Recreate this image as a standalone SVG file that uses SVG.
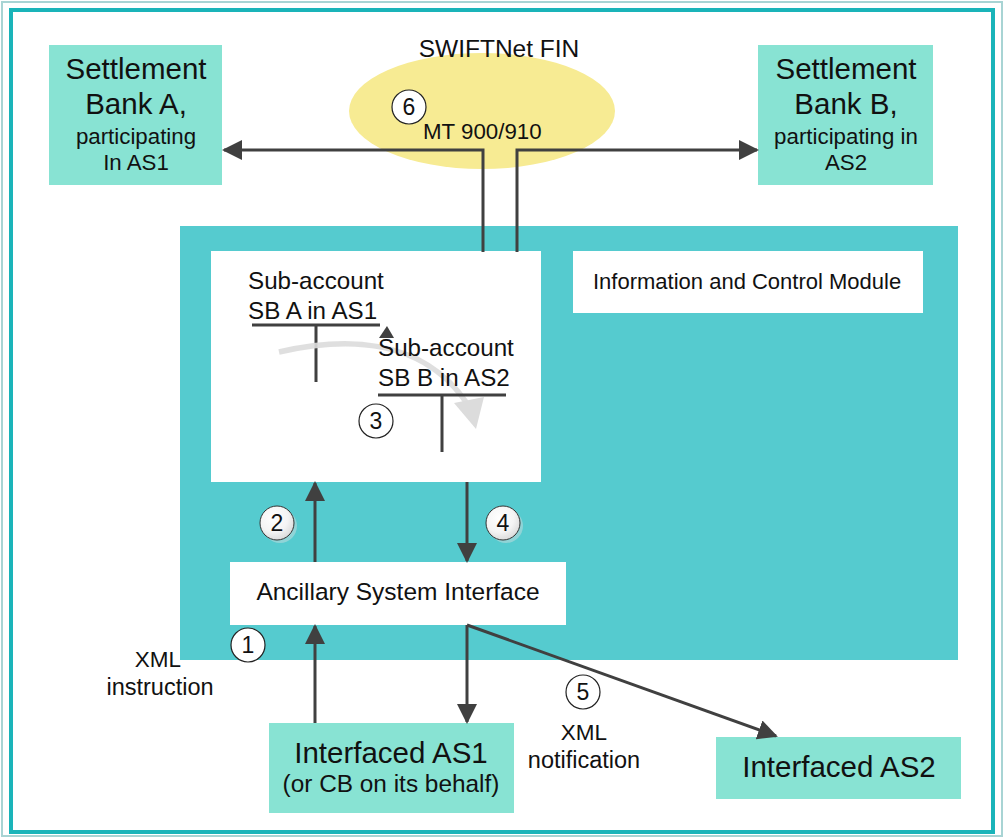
<svg xmlns="http://www.w3.org/2000/svg" width="1004" height="838" viewBox="0 0 1004 838">
<style>
text{font-family:"Liberation Sans",Arial,sans-serif;fill:#111}
.box{fill:#88e3d3}
.wb{fill:#fff}
.ln{stroke:#404040;stroke-width:3;fill:none}
.num{fill:#fff;stroke:#222;stroke-width:1.2}
.nt{font-size:23px;text-anchor:middle}
</style>
<defs>
<marker id="ahb" markerWidth="20" markerHeight="20" refX="18" refY="10" orient="auto" markerUnits="userSpaceOnUse" viewBox="0 0 20 20">
<path d="M0,0 L20,10 L0,20 Z" fill="#404040"/>
</marker>
<radialGradient id="cg" cx="0.4" cy="0.35" r="0.7">
<stop offset="0" stop-color="#ffffff"/>
<stop offset="0.6" stop-color="#f4f4f4"/>
<stop offset="1" stop-color="#d8d8d8"/>
</radialGradient>
</defs>
<rect x="0" y="0" width="1004" height="838" fill="#fff"/>
<rect x="2" y="2" width="1000" height="834" fill="none" stroke="#a8d4d4" stroke-width="2"/>
<rect x="11" y="10" width="982" height="822" fill="none" stroke="#1ab4b9" stroke-width="4"/>

<g id="main-area"><rect x="180" y="226" width="778" height="434" fill="#55cbcf"/></g>

<g id="swiftnet">
<ellipse cx="482" cy="111" rx="133" ry="58" fill="#f7eb93"/>
<text x="499" y="57" font-size="24.5" text-anchor="middle">SWIFTNet FIN</text>
<circle class="num" cx="409" cy="107" r="17"/>
<text class="nt" x="409" y="115">6</text>
<text x="423" y="139" font-size="22.3">MT 900/910</text>
</g>

<g id="settlement-a">
<rect class="box" x="49" y="45" width="173" height="140"/>
<text x="136" y="79" font-size="29.5" text-anchor="middle">Settlement</text>
<text x="136" y="114" font-size="29.5" text-anchor="middle">Bank A,</text>
<text x="136" y="144" font-size="22.3" text-anchor="middle">participating</text>
<text x="136" y="170" font-size="22.3" text-anchor="middle">In AS1</text>
</g>

<g id="settlement-b">
<rect class="box" x="758" y="45" width="175" height="140"/>
<text x="846" y="79" font-size="29.5" text-anchor="middle">Settlement</text>
<text x="846" y="114" font-size="29.5" text-anchor="middle">Bank B,</text>
<text x="846" y="144" font-size="22.3" text-anchor="middle">participating in</text>
<text x="846" y="170" font-size="22.3" text-anchor="middle">AS2</text>
</g>

<g id="sub-accounts">
<rect class="wb" x="211" y="251" width="330" height="231"/>
<text x="248" y="289" font-size="24.2">Sub-account</text>
<text x="248" y="319" font-size="24.2">SB A in AS1</text>
<path class="ln" d="M252,325 H380 M316,325 V382"/>
<path d="M379,338 L394,338 L387,326 Z" fill="#404040"/>
<path d="M279,352 C340,338 420,335 466,402" fill="none" stroke="#dcdcdc" stroke-width="5.5" opacity="0.9"/>
<path d="M454,403 L484,397 L476,429 Z" fill="#dcdcdc"/>
<text x="378" y="356" font-size="24.2">Sub-account</text>
<text x="378" y="386" font-size="24.2">SB B in AS2</text>
<path class="ln" d="M378,395 H506 M442,395 V452"/>
<circle class="num" cx="376" cy="421" r="17"/>
<text class="nt" x="376" y="429">3</text>
</g>

<g id="icm">
<rect class="wb" x="573" y="251" width="350" height="62"/>
<text x="593" y="289" font-size="22">Information and Control Module</text>
</g>

<g id="asi">
<rect class="wb" x="230" y="562" width="336" height="63"/>
<text x="398" y="600" font-size="24.5" text-anchor="middle">Ancillary System Interface</text>
</g>

<g id="interfaced-as1">
<rect class="box" x="269" y="723" width="245" height="90"/>
<text x="391" y="763" font-size="29.5" text-anchor="middle">Interfaced AS1</text>
<text x="391" y="792" font-size="24.4" text-anchor="middle">(or CB on its behalf)</text>
</g>

<g id="interfaced-as2">
<rect class="box" x="716" y="737" width="245" height="62"/>
<text x="839" y="777" font-size="29.5" text-anchor="middle">Interfaced AS2</text>
</g>

<g id="connectors">
<path class="ln" d="M483,252 V150 H224" marker-end="url(#ahb)"/>
<path class="ln" d="M517,252 V150 H757" marker-end="url(#ahb)"/>
<path class="ln" d="M315,562 V483" marker-end="url(#ahb)"/>
<path class="ln" d="M467,482 V561" marker-end="url(#ahb)"/>
<path class="ln" d="M315,723 V626" marker-end="url(#ahb)"/>
<path class="ln" d="M467,625 V722" marker-end="url(#ahb)"/>
<path class="ln" d="M467,625 L776,736" marker-end="url(#ahb)"/>
</g>

<g id="labels">
<circle cx="280" cy="526" r="17" fill="#9fd6d8" opacity="0.8"/>
<circle cx="277" cy="523" r="17" fill="url(#cg)" stroke="#333" stroke-width="1"/>
<text class="nt" x="277" y="531">2</text>
<circle cx="506" cy="526" r="17" fill="#9fd6d8" opacity="0.8"/>
<circle cx="503" cy="523" r="17" fill="url(#cg)" stroke="#333" stroke-width="1"/>
<text class="nt" x="503" y="531">4</text>
<circle class="num" cx="248" cy="645" r="17"/>
<text class="nt" x="248" y="653">1</text>
<text x="158" y="667" font-size="22.5" text-anchor="middle">XML</text>
<text x="160" y="695" font-size="23.5" text-anchor="middle">instruction</text>
<circle class="num" cx="583" cy="692" r="17"/>
<text class="nt" x="583" y="700">5</text>
<text x="584" y="740" font-size="22.5" text-anchor="middle">XML</text>
<text x="584" y="768" font-size="23.5" text-anchor="middle">notification</text>
</g>
</svg>
